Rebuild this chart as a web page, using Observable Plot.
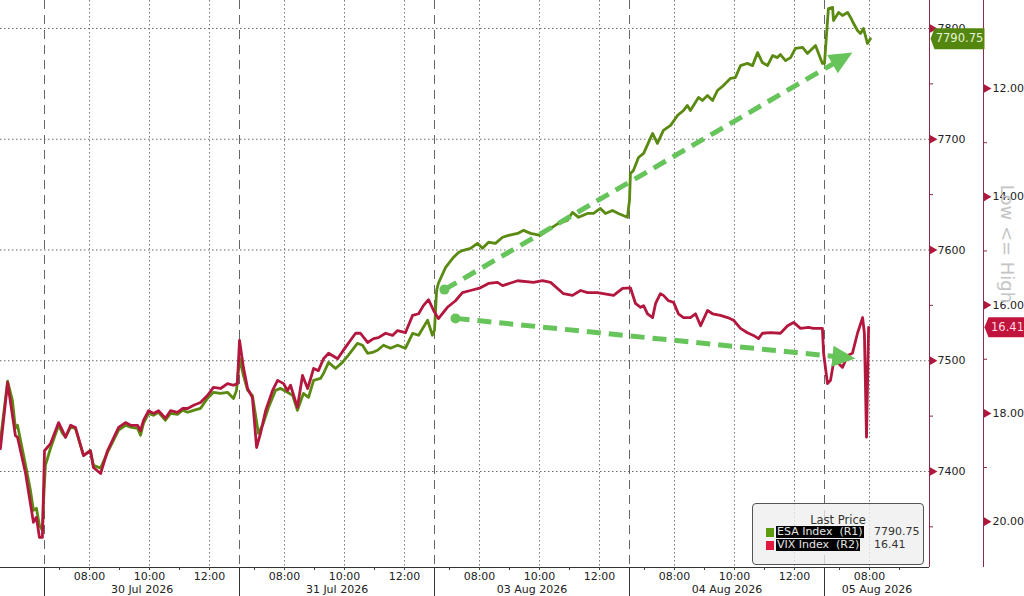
<!DOCTYPE html>
<html><head><meta charset="utf-8">
<script src="https://cdn.jsdelivr.net/npm/d3@7"></script>
<script src="https://cdn.jsdelivr.net/npm/@observablehq/plot@0.6"></script>
<style>
body{margin:0;background:#fff;}
#wrap{position:relative;width:1024px;height:596px;font-family:"DejaVu Sans",sans-serif;overflow:hidden;}
#wrap svg{position:absolute;left:0;top:0;}
.legend{position:absolute;left:752px;top:503px;width:172px;height:62px;box-sizing:border-box;border:1px solid #555;border-radius:4px;background:rgba(238,238,238,0.78);font-size:11px;color:#333;}
.legend .hdr{position:absolute;left:0;width:100%;top:9px;text-align:center;font-size:11.5px;}
.legend .sw{position:absolute;left:13px;width:8px;height:9px;}
.legend .lab{position:absolute;left:23px;height:12px;line-height:12px;background:#000;color:#e4e4e4;white-space:pre;padding:0 1px;}
.legend .val{position:absolute;left:121px;height:12px;line-height:12px;color:#333;}
</style></head>
<body><div id="wrap"></div>
<script>
// ---------- data ----------
// time = trading hours since 30 Jul 2026 06:30 (each session 06:30-13:00 = 6.5 h)
const sessionDays = ["30 Jul 2026", "31 Jul 2026", "03 Aug 2026", "04 Aug 2026", "05 Aug 2026"];
const majorHours = ["08:00", "10:00", "12:00"];
const minorHours = ["07:00", "09:00", "11:00"];
const esaTicks = [7400, 7500, 7600, 7700, 7800];
const esaMinorTicks = [7350, 7450, 7550, 7650, 7750];
const vixTicks = [12, 14, 16, 18, 20];
const vixMinorTicks = [13, 15, 17, 19];

// ESA Index (R1): [time, price]
const esa = [[-1.47,7428],[-1.23,7481.5],[-1.07,7464.25],[-0.97,7439],[-0.9,7441.75],[-0.73,7419],[-0.63,7405.5],[-0.47,7383],[-0.37,7365],[-0.27,7366.75],[-0.17,7351.5],[-0.07,7347],[-0.03,7374],[0.03,7405.5],[0.2,7421],[0.47,7441.75],[0.6,7434.5],[0.7,7431],[0.87,7440],[1.03,7439],[1.3,7414.5],[1.53,7419],[1.63,7405.5],[1.87,7403],[2.1,7417.25],[2.47,7437.25],[2.7,7441.75],[2.87,7440],[3.1,7439],[3.2,7432.75],[3.3,7443.5],[3.47,7452.5],[3.63,7450.75],[3.8,7453.5],[4.03,7446.25],[4.2,7452.5],[4.43,7451.5],[4.6,7455.25],[4.77,7453.5],[4.97,7455.25],[5.2,7457],[5.43,7466],[5.63,7471.5],[5.87,7470.5],[6.1,7471.5],[6.3,7466],[6.4,7473.25],[6.5,7502.25],[6.63,7486.75],[6.77,7473.25],[6.93,7468.75],[7.13,7434.5],[7.27,7441.75],[7.47,7458],[7.7,7473.25],[7.87,7475],[8.1,7471.5],[8.27,7468.75],[8.43,7455.25],[8.63,7470.5],[8.8,7467],[8.97,7482.25],[9.2,7484],[9.3,7488.5],[9.47,7498.5],[9.7,7493],[9.93,7498.5],[10.13,7505],[10.43,7515.75],[10.6,7514],[10.77,7506.75],[10.93,7507.5],[11.1,7509.5],[11.3,7514],[11.53,7511.25],[11.77,7514],[12.03,7511.25],[12.27,7524.75],[12.47,7523],[12.77,7536.5],[12.93,7523],[13,7527.5],[13.07,7563.5],[13.13,7570],[13.37,7584.25],[13.63,7593.25],[13.8,7597.75],[13.93,7599.5],[14.2,7601.5],[14.43,7606],[14.6,7601.5],[14.8,7607],[15.03,7606],[15.27,7611.5],[15.47,7613.25],[15.77,7615],[15.97,7617.75],[16.2,7615],[16.53,7613.25],[16.87,7619.5],[17.13,7624],[17.43,7626.75],[17.6,7634],[17.8,7629.5],[18.1,7633],[18.3,7633],[18.53,7637.5],[18.7,7633],[18.93,7635.75],[19.13,7633],[19.43,7629.5],[19.5,7644.75],[19.53,7669],[19.63,7671.75],[19.8,7683.5],[19.97,7687.25],[20.27,7705.25],[20.43,7696.25],[20.63,7708],[20.87,7712.5],[21.1,7721.5],[21.3,7726],[21.43,7730.5],[21.53,7726],[21.8,7737.75],[21.93,7735],[22.1,7739.5],[22.27,7735],[22.43,7744],[22.63,7748.5],[22.87,7755],[23.03,7755.75],[23.2,7766.5],[23.43,7768.5],[23.6,7766.5],[23.77,7778.25],[23.93,7769.25],[24.1,7766.5],[24.27,7775.5],[24.43,7773.75],[24.53,7776.5],[24.7,7771],[24.87,7773.75],[25.03,7782],[25.27,7783],[25.43,7777.5],[25.7,7784.75],[25.93,7768.5],[26,7768.5],[26.07,7795.5],[26.13,7818],[26.27,7819],[26.3,7807.25],[26.47,7814.5],[26.6,7811.75],[26.77,7814.5],[26.87,7810],[26.97,7804.5],[27.1,7798.25],[27.2,7795.5],[27.3,7800],[27.43,7786.5],[27.53,7790.75]];

// VIX Index (R2, inverted): [time, level]
const vix = [[-1.47,18.65],[-1.23,17.43],[-0.97,18.41],[-0.9,18.44],[-0.63,19.11],[-0.37,20.01],[-0.27,19.92],[-0.17,20.29],[-0.07,20.29],[-0.03,19.37],[0,18.69],[0.2,18.56],[0.47,18.17],[0.6,18.32],[0.7,18.44],[0.87,18.22],[1.03,18.26],[1.3,18.78],[1.53,18.69],[1.63,19.0],[1.87,19.11],[2.1,18.69],[2.47,18.26],[2.7,18.17],[2.87,18.22],[3.1,18.22],[3.2,18.32],[3.3,18.13],[3.47,17.95],[3.63,18.0],[3.8,17.95],[4.03,18.09],[4.2,17.95],[4.43,17.98],[4.6,17.91],[4.77,17.91],[4.97,17.85],[5.2,17.8],[5.43,17.67],[5.63,17.52],[5.87,17.54],[6.1,17.45],[6.3,17.48],[6.43,17.45],[6.5,16.65],[6.63,17.15],[6.77,17.54],[6.93,17.71],[7.07,18.63],[7.2,18.37],[7.37,17.95],[7.6,17.58],[7.77,17.39],[7.97,17.45],[8.1,17.58],[8.2,17.48],[8.43,17.89],[8.6,17.3],[8.77,17.54],[8.87,17.36],[8.97,17.17],[9.13,17.21],[9.3,16.99],[9.47,16.89],[9.77,16.99],[10.03,16.78],[10.2,16.65],[10.37,16.52],[10.53,16.52],[10.77,16.69],[10.97,16.62],[11.13,16.6],[11.37,16.52],[11.6,16.56],[11.77,16.47],[12.03,16.51],[12.27,16.19],[12.47,16.16],[12.63,16.01],[12.8,15.9],[12.97,16.1],[13.13,16.25],[13.43,16.04],[13.7,15.92],[13.93,15.77],[14.2,15.73],[14.53,15.68],[14.8,15.6],[15.1,15.58],[15.27,15.64],[15.77,15.55],[16.3,15.58],[16.6,15.55],[16.87,15.58],[17.3,15.79],[17.6,15.82],[17.87,15.73],[18.1,15.77],[18.43,15.77],[18.97,15.82],[19.27,15.69],[19.53,15.68],[19.7,15.97],[19.87,16.04],[19.97,16.01],[20.1,16.16],[20.27,16.23],[20.37,15.97],[20.53,15.79],[20.63,15.82],[20.8,15.92],[20.97,15.95],[21.13,16.16],[21.3,16.23],[21.53,16.23],[21.7,16.16],[21.87,16.38],[22.1,16.1],[22.27,16.16],[22.53,16.19],[22.77,16.23],[22.97,16.28],[23.2,16.43],[23.43,16.51],[23.63,16.56],[23.8,16.62],[23.93,16.52],[24.2,16.51],[24.53,16.52],[24.77,16.38],[24.97,16.32],[25.2,16.43],[25.47,16.41],[25.63,16.43],[25.93,16.43],[25.97,16.89],[26.1,17.45],[26.2,17.39],[26.37,16.84],[26.47,17.08],[26.6,17.15],[26.77,16.93],[26.93,16.89],[27.1,16.52],[27.27,16.23],[27.33,16.52],[27.4,18.44],[27.47,16.41]];

const lastEsa = 7790.75;
const lastVix = 16.41;

// trend annotation arrows, in (time, ESA price) units
const trendArrows = [
  {t1: 13.33, v1: 7564.25, t2: 26.93, v2: 7778.25},
  {t1: 13.7, v1: 7538.25, t2: 27.03, v2: 7502}
];

const legendItems = [
  {name: "ESA Index  (R1)", color: "#5e9c0f", value: "7790.75"},
  {name: "VIX Index  (R2)", color: "#e0193f", value: "16.41"}
];

// ---------- layout / scales ----------
const W = 1024, H = 596, MR = 95, MB = 29;
const X0 = -1.467, X1 = 29.5;          // visible time range
const Y0 = 7313.3, Y1 = 7825.3;        // R1 visible range
const OPEN = 6.5, SESSION = 6.5;
// R2 (VIX, inverted) expressed on the R1 scale
const R2A = 7745.8, R2B = 48.89;
const vixToY = v => R2A - R2B * (v - 12);
const yToVix = y => 12 + (R2A - y) / R2B;

const GREEN = "#5b8a12", RED = "#b3173e", AXIS = "#8e2a48", ANN = "#66c45a";

const hm = s => { const [h, m] = s.split(":").map(Number); return h + m / 60; };
const pos = (s, label) => s * SESSION + hm(label) - OPEN;

const majorTicks = [], majorLabel = new Map(), minorTicksX = [], dayStarts = [], dayCenters = [], dayLabel = new Map();
sessionDays.forEach((d, s) => {
  majorHours.forEach(h => { const t = pos(s, h); if (t < X1 - 0.01) { majorTicks.push(t); majorLabel.set(t, h); } });
  minorHours.forEach(h => { const t = pos(s, h); if (t < X1) minorTicksX.push(t); });
  dayStarts.push(s * SESSION);
  const a = Math.max(s * SESSION, X0), b = Math.min((s + 1) * SESSION, X1);
  const c = (a + b) / 2; dayCenters.push(c); dayLabel.set(c, d);
});

// arrow geometry via the same linear mappings used by Plot
const sx = d3.scaleLinear([X0, X1], [0, W - MR]);
const sy = d3.scaleLinear([Y0, Y1], [H - MB, 0]);
const arrows = trendArrows.map(a => {
  const x1 = sx(a.t1), y1 = sy(a.v1), x2 = sx(a.t2), y2 = sy(a.v2);
  const ang = Math.atan2(y2 - y1, x2 - x1);
  const ex = x2 - 16 * Math.cos(ang), ey = y2 - 16 * Math.sin(ang);
  return {...a, angle: ang * 180 / Math.PI, te: sx.invert(ex), ve: sy.invert(ey)};
});

const headSymbol = {draw(ctx) { ctx.moveTo(0, 0); ctx.lineTo(-23, -10.5); ctx.lineTo(-23, 10.5); ctx.closePath(); }};
const tagG = {draw(ctx) { ctx.moveTo(0, 0); ctx.lineTo(4, -10.5); ctx.lineTo(54, -10.5); ctx.lineTo(54, 10.5); ctx.lineTo(4, 10.5); ctx.closePath(); }};
const tagR = {draw(ctx) { ctx.moveTo(0, 0); ctx.lineTo(4, -10); ctx.lineTo(41, -10); ctx.lineTo(41, 10); ctx.lineTo(4, 10); ctx.closePath(); }};

const chart = Plot.plot({
  width: W, height: H,
  marginLeft: 0, marginRight: MR, marginTop: 0, marginBottom: MB,
  x: {type: "linear", domain: [X0, X1]},
  y: {type: "linear", domain: [Y0, Y1]},
  style: {fontFamily: "DejaVu Sans, sans-serif", fontSize: "11px", background: "white", overflow: "visible"},
  marks: [
    // grid
    Plot.ruleY(esaTicks, {stroke: "#6a6a6a", strokeDasharray: "1.5,2.5", strokeWidth: 1}),
    Plot.ruleX(majorTicks, {stroke: "#7a7a7a", strokeDasharray: "1.5,2.5", strokeWidth: 1}),
    Plot.ruleX(dayStarts, {stroke: "#666", strokeDasharray: "9,6", strokeWidth: 1}),
    // bottom axis
    Plot.ruleY([Y0], {stroke: "#333", strokeWidth: 1}),
    Plot.axisX({ticks: majorTicks, tickSize: 3, tickPadding: 2, tickFormat: d => majorLabel.get(d), stroke: "#444", fill: "#222", label: null}),
    Plot.axisX({ticks: minorTicksX, tickSize: 3, tickFormat: () => "", stroke: "#444", label: null}),
    Plot.axisX({ticks: dayStarts, tickSize: 29, tickFormat: () => "", stroke: "#333", label: null}),
    Plot.axisX({ticks: dayCenters, tickSize: 0, tickPadding: 18, tickFormat: d => dayLabel.get(d), fill: "#222", label: null}),
    // series
    Plot.line(esa, {x: d => d[0], y: d => d[1], stroke: GREEN, strokeWidth: 2.8, strokeLinejoin: "round"}),
    Plot.line(vix, {x: d => d[0], y: d => vixToY(d[1]), stroke: RED, strokeWidth: 2.8, strokeLinejoin: "round"}),
    // trend arrows
    Plot.link(arrows, {x1: "t1", y1: "v1", x2: "te", y2: "ve", stroke: ANN, strokeWidth: 5, strokeDasharray: "14,8"}),
    Plot.dot(arrows, {x: "t1", y: "v1", r: 5, fill: ANN, stroke: "none"}),
    Plot.dot(arrows, {x: "t2", y: "v2", rotate: "angle", symbol: headSymbol, r: 5, fill: ANN, stroke: "none"}),
    // right axes lines
    Plot.ruleX([X1], {stroke: AXIS, strokeWidth: 1}),
    Plot.ruleX([X1], {dx: 54, stroke: AXIS, strokeWidth: 1}),
    // R1
    Plot.axisY({anchor: "right", ticks: esaTicks, tickSize: 0, tickPadding: 8, tickFormat: d => String(d), fill: "#222", label: null}),
    Plot.axisY({anchor: "right", ticks: esaMinorTicks, tickSize: 3, tickFormat: () => "", stroke: AXIS, label: null}),
    Plot.dot(esaTicks, {y: d => d, frameAnchor: "right", dx: 3, symbol: "triangle", rotate: 90, r: 3.2, fill: "#b0173c", stroke: "none"}),
    // R2
    Plot.axisY({anchor: "right", ticks: vixTicks.map(vixToY), dx: 54, tickSize: 0, tickPadding: 9, tickFormat: d => yToVix(d).toFixed(2), fill: "#222", label: null}),
    Plot.axisY({anchor: "right", ticks: vixMinorTicks.map(vixToY), dx: 54, tickSize: 3, tickFormat: () => "", stroke: AXIS, label: null}),
    Plot.dot(vixTicks, {y: d => vixToY(d), frameAnchor: "right", dx: 57, symbol: "triangle", rotate: 90, r: 3.2, fill: "#b0173c", stroke: "none"}),
    // last price tags
    Plot.dot([lastEsa], {y: d => d, frameAnchor: "right", dx: 1, symbol: tagG, r: 5, fill: "#53860f", stroke: "none"}),
    Plot.text([lastEsa], {y: d => d, text: d => d.toFixed(2), frameAnchor: "right", dx: 30, textAnchor: "middle", fill: "#e6f4d6", fontSize: 11.5}),
    Plot.dot([lastVix], {y: d => vixToY(d), frameAnchor: "right", dx: 55, symbol: tagR, r: 5, fill: "#c0143c", stroke: "none"}),
    Plot.text([lastVix], {y: d => vixToY(d), text: d => d.toFixed(2), frameAnchor: "right", dx: 78, textAnchor: "middle", fill: "#ffd9e0", fontSize: 11.5}),
    // scale direction hint
    Plot.text(["Low <= High"], {text: d => d, frameAnchor: "right", textAnchor: "middle", dx: 77, dy: -40, rotate: 90, fontSize: 18, fill: "#c4c4c4"})
  ]
});

const wrap = document.getElementById("wrap");
wrap.appendChild(chart);

// legend
const lg = document.createElement("div");
lg.className = "legend";
lg.innerHTML = `<div class="hdr">Last Price</div>` + legendItems.map((it, i) => {
  const top = 22 + i * 13;
  return `<div class="sw" style="top:${top + 2}px;background:${it.color}"></div>` +
         `<div class="lab" style="top:${top}px">${it.name}</div>` +
         `<div class="val" style="top:${top}px">${it.value}</div>`;
}).join("");
wrap.appendChild(lg);
</script>
</body></html>
